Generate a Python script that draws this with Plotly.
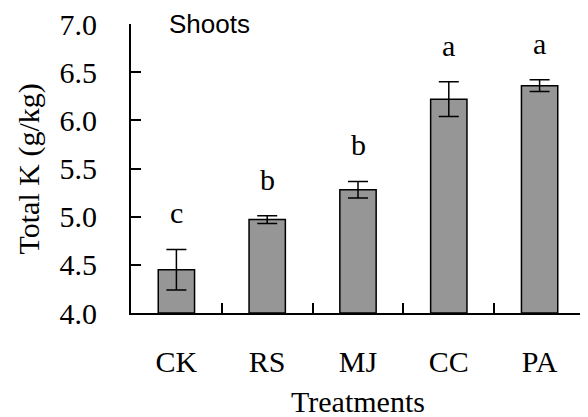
import plotly.graph_objects as go

categories = ["CK", "RS", "MJ", "CC", "PA"]
values = [4.45, 4.97, 5.28, 6.22, 6.36]
errors = [0.21, 0.04, 0.085, 0.18, 0.06]
letters = ["c", "b", "b", "a", "a"]
y_ticks = [4.0, 4.5, 5.0, 5.5, 6.0, 6.5, 7.0]

SERIF = "'Liberation Serif', 'Times New Roman', serif"

fig = go.Figure()
fig.add_trace(go.Bar(
    x=categories, y=[v - 4.0 for v in values], base=4.0,
    width=0.4,
    marker=dict(color="#969696", line=dict(color="black", width=1.5)),
    error_y=dict(type="data", array=errors, color="black", thickness=1.5, width=10),
    showlegend=False,
))

for c, v, e, t in zip(categories, values, errors, letters):
    fig.add_annotation(x=c, y=v + e + 0.38, text=t, showarrow=False,
                       font=dict(family=SERIF, size=30, color="black"),
                       yanchor="middle")

fig.add_annotation(xref="paper", yref="paper", x=0.079, y=1.0, xanchor="left",
                   yanchor="middle", text="Shoots", showarrow=False,
                   font=dict(family="'Liberation Sans', Arial, sans-serif", size=26, color="black"))

fig.add_annotation(xref="paper", yref="paper", x=0.5, y=-0.305, xanchor="center",
                   yanchor="middle", text="Treatments", showarrow=False,
                   font=dict(family=SERIF, size=30, color="black"))

fig.add_annotation(xref="paper", yref="paper", x=-0.2247, y=0.5, xanchor="center",
                   yanchor="middle", text="Total K (g/kg)", textangle=-90, showarrow=False,
                   font=dict(family=SERIF, size=30, color="black"))

fig.update_layout(
    width=580, height=409,
    margin=dict(l=123, r=3, t=16, b=104),
    plot_bgcolor="white", paper_bgcolor="white",
    bargap=0.6,
    font=dict(family=SERIF, color="black", size=30),
    xaxis=dict(
        automargin=False,
        showline=True, linecolor="black", linewidth=2,
        ticks="inside", tickson="boundaries", ticklen=10, tickwidth=1.5, tickcolor="black",
        ticklabelstandoff=21,
        tickfont=dict(family=SERIF, size=30),
        showgrid=False, zeroline=False,
    ),
    yaxis=dict(
        automargin=False,
        range=[4.0, 7.0], tickvals=y_ticks, ticktext=[f"{t:.1f}" for t in y_ticks],
        showline=True, linecolor="black", linewidth=2,
        ticks="inside", ticklen=10, tickwidth=1.5, tickcolor="black",
        ticklabelstandoff=26, ticklabeloverflow="allow",
        tickfont=dict(family=SERIF, size=30),
        showgrid=False, zeroline=False,
    ),
)

fig.write_html("out.html")
